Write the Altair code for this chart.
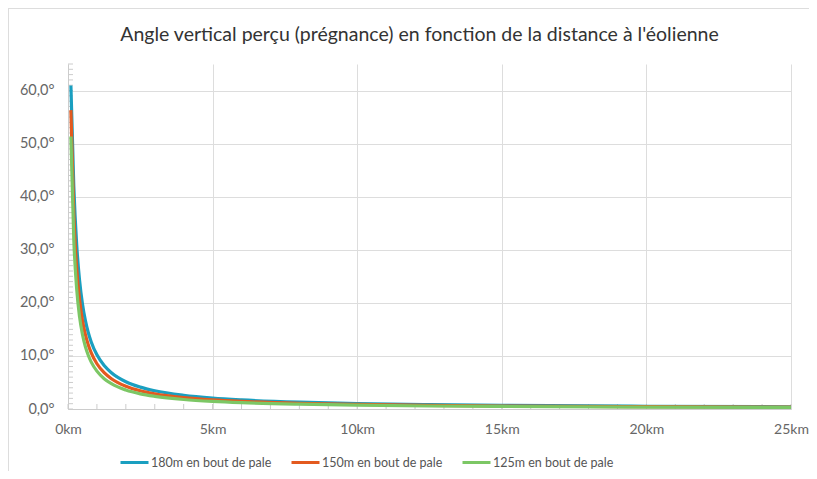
import altair as alt
import pandas as pd

distances_km = [0.1, 0.2, 0.3, 0.4, 0.5, 0.6, 0.7, 0.8, 1.0, 1.25, 1.5, 2, 2.5, 3, 4, 5, 6, 8, 10, 12.5, 15, 20, 25]
angle_180 = [60.95, 41.99, 30.96, 24.23, 19.80, 16.70, 14.42, 12.68, 10.20, 8.19, 6.84, 5.14, 4.12, 3.43, 2.58, 2.06, 1.72, 1.29, 1.03, 0.83, 0.69, 0.52, 0.41]
angle_150 = [56.31, 36.87, 26.57, 20.56, 16.70, 14.04, 12.10, 10.62, 8.53, 6.84, 5.71, 4.29, 3.43, 2.86, 2.15, 1.72, 1.43, 1.07, 0.86, 0.69, 0.57, 0.43, 0.34]
angle_125 = [51.34, 32.01, 22.62, 17.35, 14.04, 11.77, 10.13, 8.88, 7.13, 5.71, 4.76, 3.58, 2.86, 2.39, 1.79, 1.43, 1.19, 0.90, 0.72, 0.57, 0.48, 0.36, 0.29]
series_names = ["180m en bout de pale", "150m en bout de pale", "125m en bout de pale"]
series_colors = ["#1a9fc0", "#e35a1f", "#7cc765"]
x_ticks = [0, 5, 10, 15, 20, 25]
y_ticks = [0, 10, 20, 30, 40, 50, 60]
x_minor = list(range(0, 26))
y_minor = list(range(0, 66))

rows = []
for name, vals in zip(series_names, [angle_180, angle_150, angle_125]):
    for d, v in zip(distances_km, vals):
        rows.append({"distance": d, "angle": v, "serie": name})
df = pd.DataFrame(rows)

W, H = 723, 345
PAD_L, PAD_T, PAD_R, PAD_B = 60, 56, 18, 62
FONT = "Lato"

xscale = alt.Scale(domain=[0, 25], nice=False)
yscale = alt.Scale(domain=[0, 65], nice=False)

lines = alt.Chart(df).mark_line(strokeWidth=3.2, interpolate="monotone").encode(
    x=alt.X("distance:Q", scale=xscale,
            axis=alt.Axis(values=x_ticks, labelExpr="datum.value + 'km'", title=None,
                          grid=True, gridColor="#dddddd", domainColor="#cccccc",
                          ticks=False, labelPadding=13, labelColor="#666666",
                          labelFontSize=14, labelFont=FONT, labelFlush=False)),
    y=alt.Y("angle:Q", scale=yscale,
            axis=alt.Axis(values=y_ticks,
                          labelExpr="replace(format(datum.value, '.1f'), '.', ',') + '°'",
                          title=None, grid=True, gridColor="#dddddd", domainColor="#cccccc",
                          ticks=False, labelPadding=14, labelColor="#666666",
                          labelFontSize=14.5, labelFont=FONT, labelFlush=False)),
    color=alt.Color("serie:N", sort=series_names,
                    scale=alt.Scale(domain=series_names, range=series_colors),
                    legend=alt.Legend(title=None, orient="none", legendX=51, legendY=383,
                                      direction="horizontal",
                                      symbolType="stroke", symbolStrokeWidth=3,
                                      symbolSize=784, labelFontSize=12.5, labelFont=FONT,
                                      labelColor="#555555", columnPadding=13,
                                      labelOffset=1)),
)

xm = pd.DataFrame({"v": x_minor})
ym = pd.DataFrame({"v": y_minor})
xminor = alt.Chart(xm).mark_rule(color="#cccccc", strokeWidth=1).encode(
    x=alt.X("v:Q", scale=xscale), y=alt.value(H - 5), y2=alt.value(H))
yminor = alt.Chart(ym).mark_rule(color="#cccccc", strokeWidth=1).encode(
    y=alt.Y("v:Q", scale=yscale), x=alt.value(0), x2=alt.value(5))

frame_left = alt.Chart(pd.DataFrame({"a": [0]})).mark_rule(color="#dddddd").encode(
    x=alt.value(-PAD_L + 0.5), y=alt.value(-PAD_T), y2=alt.value(H + PAD_B))
frame_top = alt.Chart(pd.DataFrame({"a": [0]})).mark_rule(color="#dddddd").encode(
    y=alt.value(-PAD_T + 0.5), x=alt.value(-PAD_L), x2=alt.value(W + PAD_R))

chart = alt.layer(frame_left, frame_top, xminor, yminor, lines).properties(
    width=W, height=H,
    title=alt.Title("Angle vertical perçu (prégnance) en fonction de la distance à l'éolienne",
                    fontSize=19.5, font=FONT, fontWeight="normal", color="#333333",
                    anchor="middle", offset=0, dy=38, dx=-10, frame="group"),
    autosize=alt.AutoSizeParams(type="none"),
    padding={"left": PAD_L, "top": PAD_T, "right": PAD_R, "bottom": PAD_B},
).configure_view(stroke=None)

chart.save("out.html", embed_options={"renderer": "svg", "actions": False})
